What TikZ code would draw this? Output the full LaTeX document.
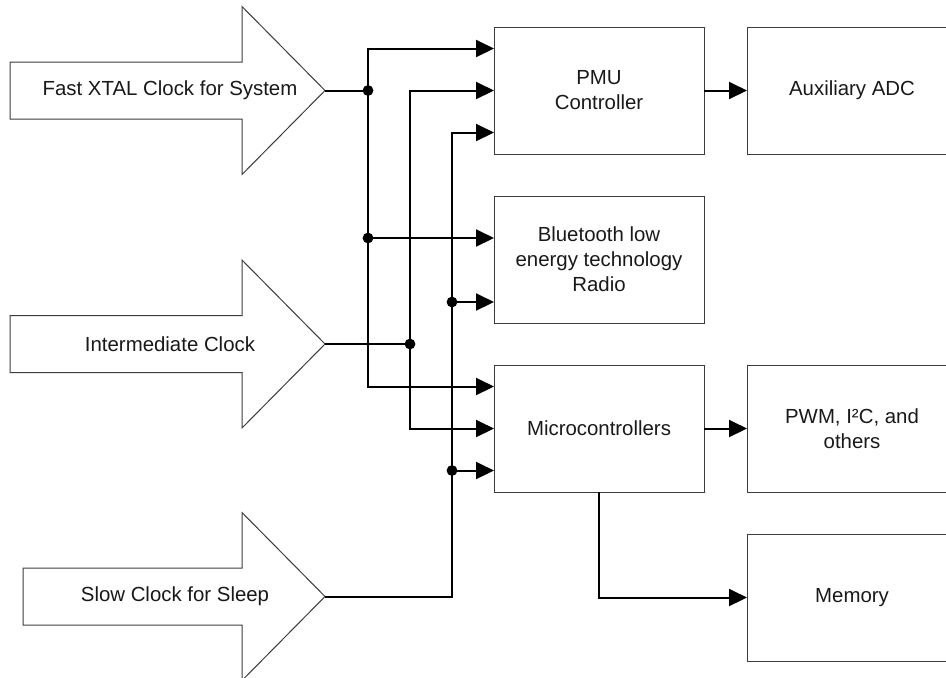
\documentclass[tikz,border=0pt]{standalone}
\usepackage{fontspec}
\setmainfont{Liberation Sans}
\usetikzlibrary{arrows.meta,positioning}
\definecolor{edgegray}{RGB}{60,60,60}
\definecolor{textgray}{RGB}{25,25,25}

\begin{document}
\begin{tikzpicture}[x=0.5pt, y=-0.5pt, every node/.style={font=\fontsize{10.2}{12.5}\selectfont, text=textgray}]
\tikzset{
    block/.style={draw=edgegray, line width=0.5pt, minimum width=105pt, minimum height=63.5pt, inner sep=0pt, outer sep=0pt, align=center},
    wire/.style={line width=1pt},
    feed/.style={wire, -{Triangle[length=9pt,width=8.5pt]}},
    clockshape/.style={draw=edgegray, line width=0.5pt, fill=white},
    junction/.style={fill=black}
}

\useasboundingbox (0,0) rectangle (946,677);
\clip (0,0) rectangle (946,677);

% Clock sources
\begin{scope}[shift={(0,90.5)}]
    \draw[clockshape] (10,-28.5) -- (242,-28.5) -- (242,-84) -- (325,0) -- (242,84) -- (242,28.5) -- (10,28.5) -- cycle;
    \coordinate (fastclk) at (325,0);
    \node (fasttxt) at (170,0) {Fast XTAL Clock for System};
\end{scope}

\begin{scope}[shift={(0,344)}]
    \draw[clockshape] (10,-28.5) -- (242,-28.5) -- (242,-84) -- (325,0) -- (242,84) -- (242,28.5) -- (10,28.5) -- cycle;
    \coordinate (midclk) at (325,0);
    \node (midtxt) at (170,0) {Intermediate Clock};
\end{scope}

\begin{scope}[shift={(0,596.5)}]
    \draw[clockshape] (23,-28.5) -- (242,-28.5) -- (242,-84) -- (325,0) -- (242,84) -- (242,28.5) -- (23,28.5) -- cycle;
    \coordinate (slowclk) at (325,0);
    \node (slowtxt) at (175,0) {Slow Clock for Sleep};
\end{scope}

% Blocks
\node[block] (pmu) at (599,90.5) {PMU\\Controller};
\node[block, right=21.5pt of pmu] (aux) {Auxiliary ADC};
\node[block, below=21pt of pmu] (ble) {Bluetooth low\\energy technology\\Radio};
\node[block, below=21pt of ble] (mcu) {Microcontrollers};
\node[block, right=21.5pt of mcu] (pwm) {PWM, I²C, and\\others};
\node[block, below=21pt of pwm] (mem) {Memory};

% Input points on the blocks
\coordinate (pmu1) at ([yshift=21pt]pmu.west);
\coordinate (pmu3) at ([yshift=-21pt]pmu.west);
\coordinate (ble1) at ([yshift=10.75pt]ble.west);
\coordinate (ble2) at ([yshift=-21.25pt]ble.west);
\coordinate (mcu1) at ([yshift=21pt]mcu.west);
\coordinate (mcu3) at ([yshift=-21pt]mcu.west);

% Fast clock bus
\coordinate (fj1) at (368,90.5);
\coordinate (fj2) at (fj1 |- ble1);
\draw[wire] (fastclk) -- (fj1);
\draw[feed] (fj1) |- (pmu1);
\draw[feed] (fj2) -- (ble1);
\draw[feed] (fj1) |- (mcu1);

% Intermediate clock bus
\coordinate (ij) at (410,344);
\draw[wire] (midclk) -- (ij);
\draw[feed] (ij) |- (pmu.west);
\draw[feed] (ij) |- (mcu.west);

% Slow clock bus
\coordinate (sj0) at (452,596.5);
\coordinate (sj1) at (sj0 |- ble2);
\coordinate (sj2) at (sj0 |- mcu3);
\draw[feed] (slowclk) -- (sj0) |- (pmu3);
\draw[feed] (sj1) -- (ble2);
\draw[feed] (sj2) -- (mcu3);

\foreach \j in {fj1,fj2,ij,sj1,sj2}
    \fill[junction] (\j) circle (2.7pt);

% Outputs
\draw[feed] (pmu) -- (aux);
\draw[feed] (mcu) -- (pwm);
\draw[feed] (mcu.south) |- (mem.west);

\end{tikzpicture}
\end{document}
